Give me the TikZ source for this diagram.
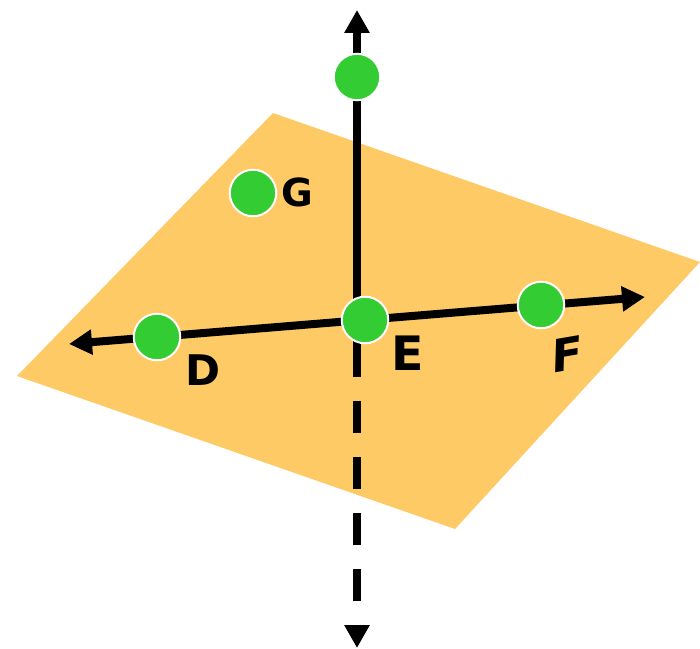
\documentclass[tikz,border=0pt]{standalone}
\usepackage{fontspec}
\newfontfamily\lblfont{DejaVu Sans}
\usetikzlibrary{arrows.meta}
\definecolor{planeOrange}{HTML}{FECA66}
\definecolor{ptGreen}{HTML}{33CC33}

\begin{document}
\begin{tikzpicture}[x=0.02cm, y=-0.02cm,
    >={Triangle[length=0.46cm, width=0.48cm]},
    axis/.style={line width=0.16cm, black},
    pt/.style={circle, fill=ptGreen, draw=white, line width=0.04cm,
      minimum size=0.93cm, inner sep=0pt},
    lbl/.style={font=\lblfont\bfseries, inner sep=0pt}]
  \useasboundingbox (0,0) rectangle (700,649);
  % Plane
  \fill[planeOrange] (273,113) -- (700,262) -- (455,529) -- (17,376) -- cycle;
  % Axis ends
  \coordinate (vt) at (357,10);
  \coordinate (vm) at (357,345);
  \coordinate (vb) at (357,648);
  \coordinate (hl) at (69,344);
  \coordinate (hr) at (645,297);
  % Line through D, E, F
  \draw[axis, <->] (hl) -- (hr);
  % Vertical axis: solid above, dashed below
  \draw[axis, ->] (vm) -- (vt);
  \draw[axis, ->, dash pattern=on 0.64cm off 0.48cm] (vm) -- (vb);
  % Points
  \node[pt] (top) at (357,77) {};
  \node[pt] (G) at (253,193) {};
  \node[pt] (D) at (157,337) {};
  \node[pt] (E) at (365,320) {};
  \node[pt] (F) at (541,305) {};
  % Labels
  \node[lbl, font=\lblfont\bfseries\fontsize{22}{22}\selectfont] (lG) at (297.5,192.5) {G};
  \node[lbl, font=\lblfont\bfseries\fontsize{24}{24}\selectfont] (lD) at (202.5,370) {D};
  \node[lbl, font=\lblfont\bfseries\fontsize{27}{27}\selectfont] (lE) at (407.5,353.5) {E};
  \node[lbl, font=\lblfont\bfseries\fontsize{26}{26}\selectfont,
    cm={0.98,0.17,0.03,1,(0,0)}] (lF) at (567,354) {F};
\end{tikzpicture}
\end{document}
